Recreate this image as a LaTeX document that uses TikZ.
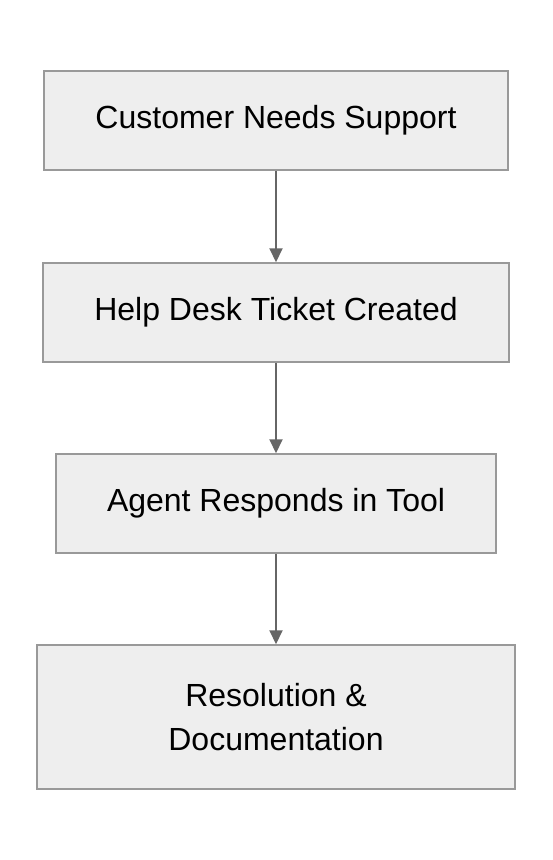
\documentclass[tikz,border=0pt]{standalone}
\usepackage{fontspec}
\setmainfont{Liberation Sans}
\usepackage{xcolor}
\usetikzlibrary{arrows.meta}

\definecolor{boxfill}{HTML}{EEEEEE}
\definecolor{boxline}{HTML}{999999}
\definecolor{arrowgray}{HTML}{666666}

\tikzset{
  stage/.style={draw=boxline, fill=boxfill, line width=1.5pt, inner sep=0pt,
    minimum height=99pt, align=center, font=\fontsize{32}{44}\selectfont},
  flow/.style={draw=arrowgray, line width=2pt,
    -{Triangle[length=14pt, width=13pt, fill=arrowgray]}}
}

\begin{document}
\begin{tikzpicture}[x=1pt, y=1pt]

  % Page
  \useasboundingbox (0,0) rectangle (552,-860);

  % Stages
  \node[stage, minimum width=464pt] (need) at (276,-120.5) {Customer Needs Support};
  \node[stage, minimum width=466pt] (ticket) at (276,-312.5) {Help Desk Ticket Created};
  \node[stage, minimum width=440pt] (agent) at (276,-503.5) {Agent Responds in Tool};
  \node[stage, minimum width=478pt, minimum height=144pt] (resolve) at (276,-717)
    {Resolution \&\\ Documentation};

  % Flow
  \draw[flow] (need) -- (ticket);
  \draw[flow] (ticket) -- (agent);
  \draw[flow] (agent) -- (resolve);

\end{tikzpicture}
\end{document}
